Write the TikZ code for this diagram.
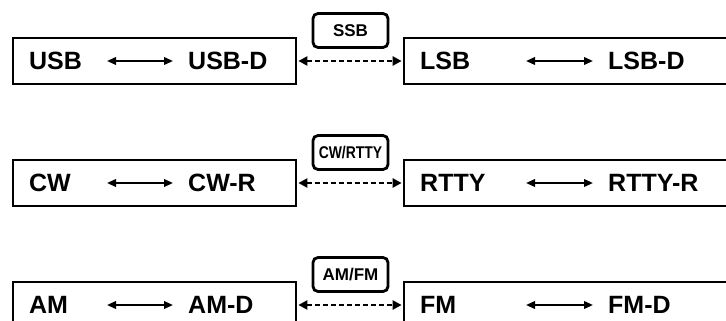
\documentclass[tikz,border=0pt]{standalone}
\usepackage{fontspec}
\setmainfont{Liberation Sans}
\usetikzlibrary{arrows.meta}
\begin{document}
\begin{tikzpicture}[x=1pt,y=-1pt,
  mainbox/.style={draw=black,line width=2.3pt,minimum height=46pt,inner sep=0pt},
  leftbox/.style={mainbox,minimum width=283pt},
  rightbox/.style={mainbox,minimum width=386pt},
  maintext/.style={anchor=west,inner sep=0pt,font=\fontsize{25}{25}\selectfont\bfseries,text height=17.9pt,text depth=0pt},
  modebox/.style={draw=black,line width=2.8pt,rounded corners=5pt,minimum width=75pt,minimum height=34pt,inner sep=0pt,font=\fontsize{17}{17}\selectfont\bfseries,text height=12.2pt,text depth=0pt},
  swap/.style={{Triangle[length=9pt,width=7.5pt]}-{Triangle[length=9pt,width=7.5pt]},line width=2pt},
  toggle/.style={{Triangle[length=9pt,width=9pt]}-{Triangle[length=9pt,width=9pt]},line width=2.7pt,dash pattern=on 5pt off 3pt,shorten <=1.2pt,shorten >=1.2pt}]
\useasboundingbox (0,0) rectangle (726,321);
\clip (0,0) rectangle (726,321);
\fill[white] (0,0) rectangle (726,321);

% Row 1
\node[leftbox]  (L1) at (154.5,61) {};
\node[rightbox] (R1) at (597,61) {};
\node[maintext] (usb)  at (29,61)  {USB};
\node[maintext] (usbd) at (188,61) {USB-D};
\node[maintext] (lsb)  at (420,61) {LSB};
\node[maintext] (lsbd) at (608,61) {LSB-D};
\coordinate (a1) at (107,61); \coordinate (b1) at (173,61);
\coordinate (c1) at (526,61); \coordinate (d1) at (593,61);
\draw[swap] (a1) -- (b1);
\draw[swap] (c1) -- (d1);
\node[modebox] (m1) at (350.5,30.5) {SSB};
\draw[toggle] (L1.east) -- (R1.west);

% Row 2
\node[leftbox]  (L2) at (154.5,183) {};
\node[rightbox] (R2) at (597,183) {};
\node[maintext] (cw)    at (29,183)  {CW};
\node[maintext] (cwr)   at (188,183) {CW-R};
\node[maintext] (rtty)  at (420,183) {RTTY};
\node[maintext] (rttyr) at (608,183) {RTTY-R};
\coordinate (a2) at (107,183); \coordinate (b2) at (173,183);
\coordinate (c2) at (526,183); \coordinate (d2) at (593,183);
\draw[swap] (a2) -- (b2);
\draw[swap] (c2) -- (d2);
\node[modebox] (m2) at (350.5,152.5) {\scalebox{0.82}[1]{CW/RTTY}};
\draw[toggle] (L2.east) -- (R2.west);

% Row 3
\node[leftbox]  (L3) at (154.5,305) {};
\node[rightbox] (R3) at (597,305) {};
\node[maintext] (am)  at (29,305)  {AM};
\node[maintext] (amd) at (188,305) {AM-D};
\node[maintext] (fm)  at (420,305) {FM};
\node[maintext] (fmd) at (608,305) {FM-D};
\coordinate (a3) at (107,305); \coordinate (b3) at (173,305);
\coordinate (c3) at (526,305); \coordinate (d3) at (593,305);
\draw[swap] (a3) -- (b3);
\draw[swap] (c3) -- (d3);
\node[modebox] (m3) at (350.5,274.5) {AM/FM};
\draw[toggle] (L3.east) -- (R3.west);
\end{tikzpicture}
\end{document}
